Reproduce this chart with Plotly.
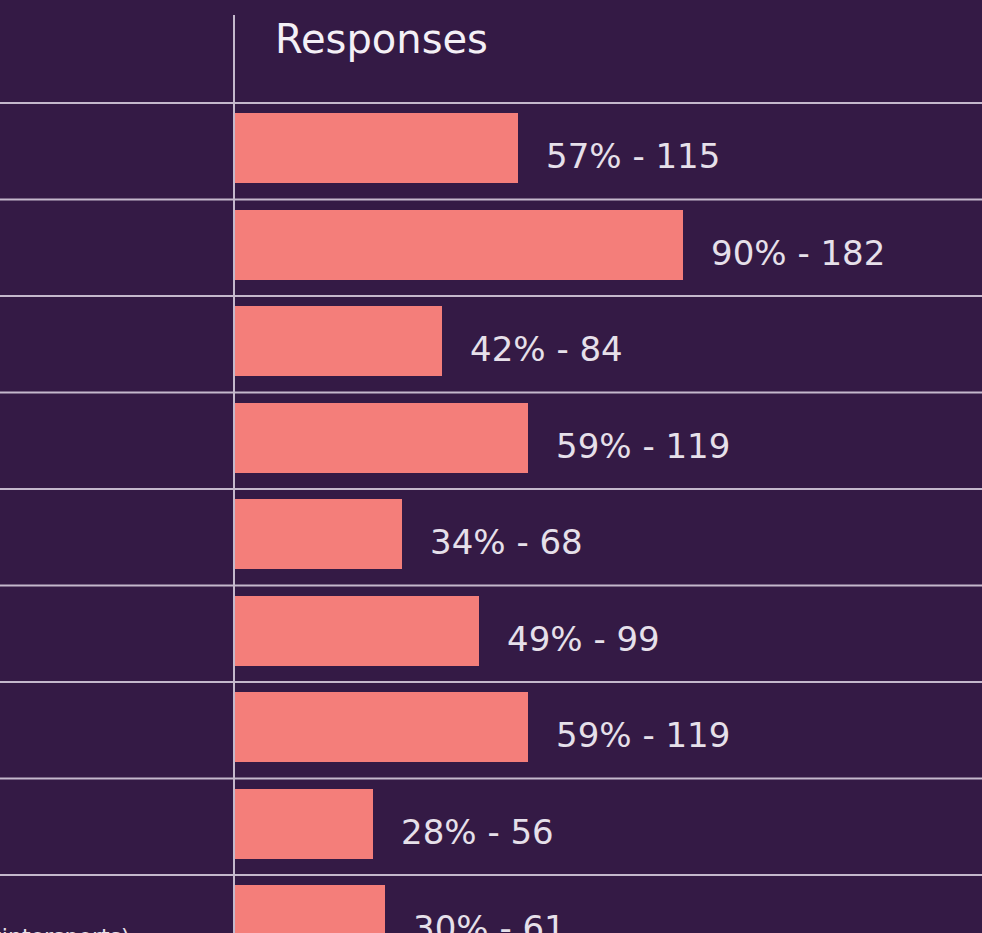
import plotly.graph_objects as go

# Data
categories = ["Row 1", "Row 2", "Row 3", "Row 4", "Row 5", "Row 6", "Row 7", "Row 8", "Row 9"]
percents = [57, 90, 42, 59, 34, 49, 59, 28, 30]
counts = [115, 182, 84, 119, 68, 99, 119, 56, 61]
header = "Responses"
last_label_fragment = "(incl. wintersports)"

W, H = 982, 933
BG = "#341a45"
BAR = "#f47e7a"
LINE = "#c4b8cc"
TXT = "#e6e0ea"
FONT = "DejaVu Sans"

left_px = 235
px_per_count = 2.46
row_px = 96.5
row0_center = 151.25

x_max = (W - left_px) / px_per_count
y_top = -row0_center / row_px
y_bot = (H - row0_center) / row_px

idx = list(range(len(categories)))

fig = go.Figure()
bw = 70 / row_px
fig.add_trace(go.Bar(
    y=idx, x=counts, orientation="h",
    marker=dict(color=BAR, line=dict(width=0)),
    width=bw, offset=-bw / 2 - 3 / row_px,
    hoverinfo="skip", showlegend=False,
))

annotations = []
for i, (p, c) in enumerate(zip(percents, counts)):
    annotations.append(dict(
        x=c, y=i, xref="x", yref="y", text=f"{p}% - {c}",
        showarrow=False, xanchor="left", yanchor="middle",
        xshift=26, yshift=-5,
        font=dict(family=FONT, size=34, color=TXT),
    ))

annotations.append(dict(
    x=273 / W, y=1 - 39 / H, xref="paper", yref="paper", text=header,
    showarrow=False, xanchor="left", yanchor="middle",
    font=dict(family=FONT, size=40, color="#f4f0f6"),
))
annotations.append(dict(
    x=132 / W, y=1 - 936 / H, xref="paper", yref="paper", text=last_label_fragment,
    showarrow=False, xanchor="right", yanchor="middle",
    font=dict(family=FONT, size=22, color=TXT),
))

shapes = []
for i in range(len(categories)):
    shapes.append(dict(
        type="line", xref="paper", yref="y", x0=0, x1=1, y0=i - 0.5, y1=i - 0.5,
        line=dict(color=LINE, width=2), layer="above",
    ))
shapes.append(dict(
    type="line", xref="paper", yref="paper", x0=234 / W, x1=234 / W,
    y0=0, y1=1 - 15 / H, line=dict(color=LINE, width=2), layer="above",
))

fig.update_layout(
    width=W, height=H,
    margin=dict(l=0, r=0, t=0, b=0),
    paper_bgcolor=BG, plot_bgcolor=BG,
    xaxis=dict(domain=[left_px / W, 1], range=[0, x_max], visible=False, fixedrange=True),
    yaxis=dict(range=[y_bot, y_top], visible=False, fixedrange=True),
    annotations=annotations, shapes=shapes,
    bargap=0,
)

fig.write_html(
    "out.html",
    config={"displayModeBar": False},
    post_script="document.body.style.margin='0';document.body.style.overflow='hidden';document.body.style.background='" + BG + "';",
)
